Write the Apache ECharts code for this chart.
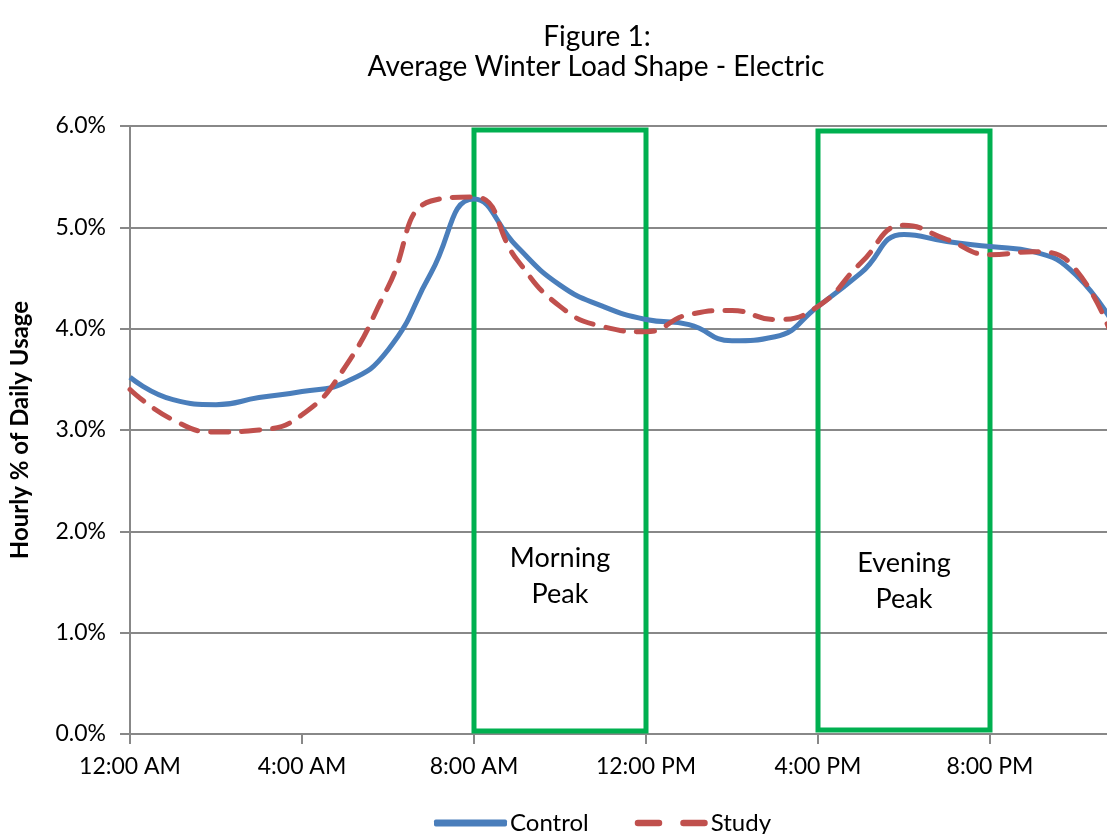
<!DOCTYPE html>
<html>
<head>
<meta charset="utf-8">
<script src="https://cdn.jsdelivr.net/npm/echarts@6/dist/echarts.min.js"></script>
<style>
html,body{margin:0;padding:0;background:#fff;}
#chart{width:1107px;height:834px;}
</style>
</head>
<body>
<div id="chart"></div>
<script>
const hours = ['12:00 AM','1:00 AM','2:00 AM','3:00 AM','4:00 AM','5:00 AM','6:00 AM','7:00 AM',
  '8:00 AM','9:00 AM','10:00 AM','11:00 AM','12:00 PM','1:00 PM','2:00 PM','3:00 PM',
  '4:00 PM','5:00 PM','6:00 PM','7:00 PM','8:00 PM','9:00 PM','10:00 PM','11:00 PM'];
const control = [3.52,3.30,3.25,3.32,3.38,3.47,3.79,4.55,5.28,4.81,4.43,4.22,4.09,4.04,3.88,3.92,4.22,4.55,4.93,4.86,4.81,4.76,4.53,3.95];
const study   = [3.40,3.10,2.98,3.00,3.15,3.62,4.41,5.26,5.30,4.68,4.22,4.02,3.97,4.14,4.18,4.09,4.22,4.65,5.02,4.88,4.73,4.76,4.58,3.72];
const peaks = [
  {name:'Morning\nPeak', from:'8:00 AM', to:'12:00 PM', bottom:0.03, top:5.96, labelY:'74%'},
  {name:'Evening\nPeak', from:'4:00 PM', to:'8:00 PM', bottom:0.04, top:5.95, labelY:'75%'}
];
const yTicks = {min:0, max:6, interval:1};

const FONT = 'Lato';
const chart = echarts.init(document.getElementById('chart'));
chart.setOption({
  animation:false,
  textStyle:{fontFamily:FONT, color:'#000'},
  graphic:[
    {type:'text', x:597, y:37, style:{text:'Figure 1:', font:'28px '+FONT, fill:'#000', textAlign:'center', textVerticalAlign:'middle'}},
    {type:'text', x:596, y:67, style:{text:'Average Winter Load Shape - Electric', font:'28px '+FONT, fill:'#000', textAlign:'center', textVerticalAlign:'middle'}}
  ],
  legend:{
    data:[
      {name:'Control', icon:'roundRect'},
      {name:'Study', icon:'path://M3,0h20a3,3 0 0 1 0,6h-20a3,3 0 0 1 0,-6z M46,0h20a3,3 0 0 1 0,6h-20a3,3 0 0 1 0,-6z'}
    ],
    left:429, top:806,
    itemWidth:73, itemHeight:7, itemGap:46,
    textStyle:{fontSize:24, fontFamily:FONT, color:'#000', padding:[0,0,0,-2]}
  },
  grid:{left:130, width:989, top:126, bottom:100, outerBoundsMode:'none', containLabel:false},
  xAxis:{
    type:'category', data:hours, boundaryGap:false,
    axisLine:{lineStyle:{color:'#888', width:2}},
    axisTick:{interval:3, length:10, lineStyle:{color:'#888', width:2}},
    axisLabel:{interval:3, margin:21, fontSize:23, color:'#000', fontFamily:FONT},
    splitLine:{show:false}
  },
  yAxis:{
    type:'value', min:yTicks.min, max:yTicks.max, interval:yTicks.interval,
    name:'Hourly % of Daily Usage', nameLocation:'middle', nameGap:98,
    nameTextStyle:{fontSize:24, fontWeight:'bold', color:'#000', fontFamily:FONT},
    axisLine:{show:true, lineStyle:{color:'#888', width:2}},
    axisTick:{show:true, length:10, lineStyle:{color:'#888', width:2}},
    axisLabel:{margin:24, fontSize:23, color:'#000', fontFamily:FONT, formatter:v=>v.toFixed(1)+'%'},
    splitLine:{lineStyle:{color:'#888', width:2}}
  },
  series:[
    {name:'Control', type:'line', data:control, smooth:0.5, symbol:'none',
     lineStyle:{color:'#4A7EBB', width:5}, itemStyle:{color:'#4A7EBB'}, z:3,
     markArea:{silent:true,
       itemStyle:{color:'rgba(0,0,0,0)', borderColor:'#00B050', borderWidth:5},
       label:{show:true, align:'center', verticalAlign:'middle', fontSize:27, lineHeight:36, color:'#000', fontFamily:FONT},
       data:peaks.map(p=>[{name:p.name, xAxis:p.from, yAxis:p.top, label:{position:['50%', p.labelY]}},{xAxis:p.to, yAxis:p.bottom}])
     }},
    {name:'Study', type:'line', data:study, smooth:0.5, symbol:'none',
     lineStyle:{color:'#C0504D', width:5, type:[18,13], cap:'round'}, itemStyle:{color:'#C0504D'}, z:4}
  ]
});
</script>
</body>
</html>
